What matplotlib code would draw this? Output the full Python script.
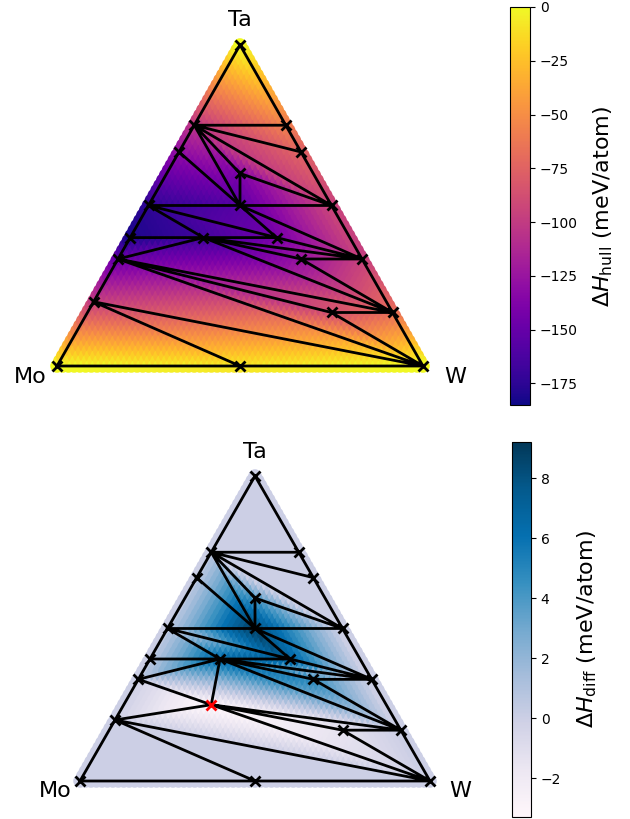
import numpy as np
import matplotlib
matplotlib.use('Agg')
import matplotlib.pyplot as plt
import matplotlib.tri as mtri

# hull phases (Mo, W, Ta fractions)
phases = ['Ta', 'Mo', 'W', 'MoTa3', 'WTa3', 'MoTa2', 'WTa2', 'MoWTa3', 'MoTa',
          'MoWTa2', 'WTa', 'Mo3Ta2', 'Mo2WTa2', 'MoW2Ta2', 'Mo2Ta', 'MoW3Ta2',
          'W2Ta', 'Mo4Ta', 'MoW4Ta', 'W5Ta', 'MoW', 'Mo2WTa']
x_mo = [0, 1, 0, 0.25, 0, 1/3, 0, 0.2, 0.5, 0.25, 0, 0.6, 0.4, 0.2, 2/3, 1/6,
        0, 0.8, 1/6, 0, 0.5, 0.5]
x_w = [0, 0, 1, 0, 0.25, 0, 1/3, 0.2, 0, 0.25, 0.5, 0, 0.2, 0.4, 0, 0.5,
       2/3, 0, 2/3, 5/6, 0.5, 0.25]
x_ta = [1, 0, 0, 0.75, 0.75, 2/3, 2/3, 0.6, 0.5, 0.5, 0.5, 0.4, 0.4, 0.4, 1/3, 1/3,
        1/3, 0.2, 1/6, 1/6, 0, 0.25]

# hull energies (meV/atom), first 21 phases
dh_hull = [0, 0, 0, -105, -58, -130, -75, -140, -175, -158, -95, -182, -168, -145,
           -148, -128, -98, -98, -88, -70, -8]

# difference (meV/atom), all 22 phases
dh_diff = [0, 0, 0, 0, 0, 0, 0, 4.5, 0, 8.8, 0, 0, 6.5, 7.5, 0, 5.0,
           0, 0, -1.5, 0, 0, -3.3]

tri_top = [(0, 3, 4), (3, 4, 6), (3, 6, 10), (3, 7, 10), (3, 7, 9), (3, 9, 5),
           (5, 9, 8), (7, 9, 10), (8, 9, 13), (8, 13, 12), (8, 12, 11), (11, 12, 14),
           (9, 10, 16), (9, 13, 16), (12, 13, 16), (12, 16, 15), (12, 15, 19),
           (12, 19, 14), (14, 19, 18), (14, 18, 2), (14, 2, 17), (17, 2, 20),
           (17, 20, 1), (15, 16, 19), (18, 19, 2)]
tri_bot = tri_top[:17] + [(12, 19, 21), (21, 19, 18), (21, 18, 2), (21, 2, 17),
                          (21, 17, 14), (21, 14, 12), (17, 2, 20), (17, 20, 1),
                          (15, 16, 19), (18, 19, 2)]

h = np.sqrt(3) / 2
px = np.array(x_w) + np.array(x_ta) / 2
py = np.array(x_ta) * h

# composition grid for the coloured field
n = 64
gw, gt = [], []
for i in range(n + 1):
    for j in range(n + 1 - i):
        gw.append(i / n)
        gt.append(j / n)
gx = np.array(gw) + np.array(gt) / 2
gy = np.array(gt) * h
cx, cy = 0.5, h / 3
gx = cx + (gx - cx) * (1 - 1e-6)
gy = cy + (gy - cy) * (1 - 1e-6)

fig = plt.figure(figsize=(6.3, 8.19), dpi=100)


def draw(ax, npts, tris, vals, cmap, vmin, vmax):
    tri = mtri.Triangulation(px[:npts], py[:npts], tris)
    interp = mtri.LinearTriInterpolator(tri, np.array(vals, dtype=float))
    gz = np.ma.filled(interp(gx, gy), 0.0)
    sc = ax.scatter(gx, gy, c=gz, cmap=cmap, vmin=vmin, vmax=vmax, s=95,
                    linewidths=0, zorder=1)
    ax.triplot(tri, color='k', lw=2, zorder=2)
    ax.plot(px[:21], py[:21], 'kx', ms=7, mew=2, zorder=3)
    ax.axis('off')
    return sc


# top: hull energy
ax1 = fig.add_axes([0, 409 / 819, 480 / 630, 410 / 819])
sc1 = draw(ax1, 21, tri_top, dh_hull, 'plasma', -185, 0)
ax1.set_xlim(-57 / 366, 423 / 366)
ax1.set_ylim(-44 / 370.7, 366 / 370.7)
ax1.text(0.5, h + 0.067, 'Ta', fontsize=16, ha='center', va='center')
ax1.text(-0.074, -0.03, 'Mo', fontsize=16, ha='center', va='center')
ax1.text(1.087, -0.03, 'W', fontsize=16, ha='center', va='center')

cax1 = fig.add_axes([510 / 630, 1 - 405 / 819, 20 / 630, 398 / 819])
cb1 = fig.colorbar(sc1, cax=cax1)
cb1.set_label(r'$\Delta H_{\mathrm{hull}}$ (meV/atom)', fontsize=16, labelpad=10)
cb1.ax.tick_params(labelsize=10)

# bottom: difference
ax2 = fig.add_axes([0, 0, 480 / 630, 399 / 819])
sc2 = draw(ax2, 22, tri_bot, dh_diff, 'PuBu', -3.3, 9.2)
ax2.plot(px[21], py[21], 'rx', ms=7, mew=2, zorder=4)
ax2.set_xlim(-80 / 350, 400 / 350)
ax2.set_ylim(-38 / 352.2, 361 / 352.2)
ax2.text(0.5, 0.934, 'Ta', fontsize=16, ha='center', va='center')
ax2.text(-0.071, -0.028, 'Mo', fontsize=16, ha='center', va='center')
ax2.text(1.086, -0.028, 'W', fontsize=16, ha='center', va='center')

cax2 = fig.add_axes([512 / 630, 2 / 819, 19 / 630, 375 / 819])
cb2 = fig.colorbar(sc2, cax=cax2)
cb2.set_label(r'$\Delta H_{\mathrm{diff}}$ (meV/atom)', fontsize=16, labelpad=10)
cb2.ax.tick_params(labelsize=10)

fig.savefig('out.png', dpi=100)
